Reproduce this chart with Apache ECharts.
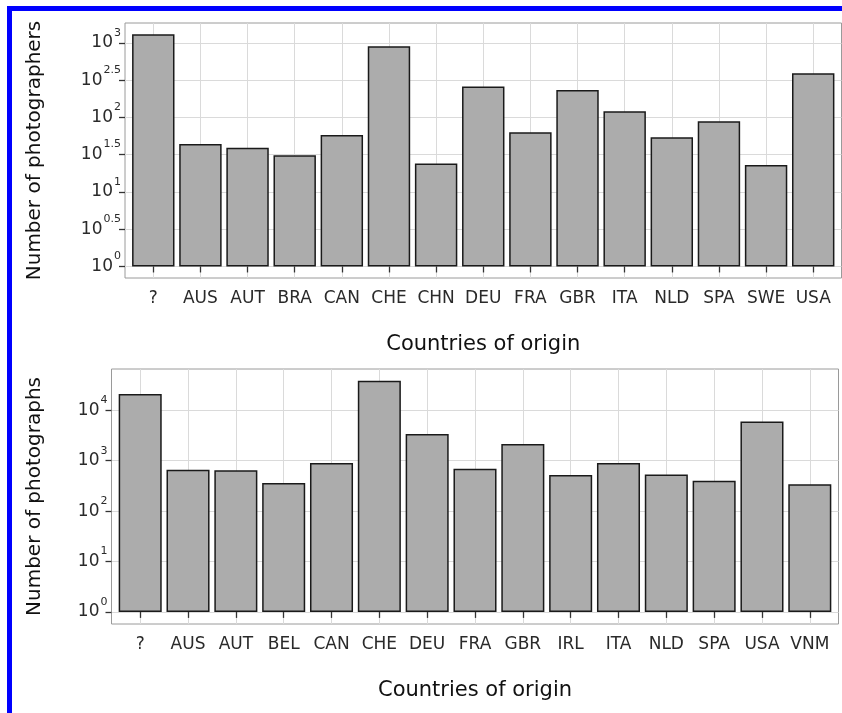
<!DOCTYPE html>
<html><head><meta charset="utf-8">
<script src="https://cdn.jsdelivr.net/npm/echarts@6/dist/echarts.min.js"></script>
<style>html,body{margin:0;padding:0;background:#fff}#c{width:842px;height:713px}</style>
</head><body><div id="c"></div>
<script>
// ---- data ----
const topCategories = ['?','AUS','AUT','BRA','CAN','CHE','CHN','DEU','FRA','GBR','ITA','NLD','SPA','SWE','USA'];
const topPhotographers = [1300,44,39,31,58,900,24,260,63,232,121,54,89,23,392];
const topTickExponents = [0,0.5,1,1.5,2,2.5,3];

const bottomCategories = ['?','AUS','AUT','BEL','CAN','CHE','DEU','FRA','GBR','IRL','ITA','NLD','SPA','USA','VNM'];
const bottomPhotographs = [21000,660,650,360,900,38500,3400,690,2150,520,900,530,400,6000,340];
const bottomTickExponents = [0,1,2,3,4];

const xTitle = 'Countries of origin';
const topYTitle = 'Number of photographers';
const bottomYTitle = 'Number of photographs';

// ---- style ----
const FONT = 'DejaVu Sans';
const tickColor = '#333';
const gridColor = '#dadada';
const borderColor = '#9a9a9a';

function positions(cats){ return cats.map((c,i)=>i+1); }

function xAxisFor(gridIndex, cats){
  const pos = positions(cats);
  return {
    type:'value', gridIndex, min:0.4, max:cats.length+0.6,
    axisLine:{show:false},
    axisTick:{show:true, customValues:pos, length:6, lineStyle:{color:tickColor,width:1.3}},
    axisLabel:{customValues:pos, margin:12, color:'#2a2a2a', fontFamily:FONT, fontSize:17,
      formatter:(v)=>cats[Math.round(v)-1]},
    splitLine:{show:true, lineStyle:{color:gridColor,width:1}},
    name:xTitle, nameLocation:'middle', nameGap:56,
    nameTextStyle:{fontFamily:FONT, fontSize:21, color:'#111'}
  };
}

function yAxisFor(gridIndex, ticks, mn, mx, title, gap){
  return {
    type:'value', gridIndex, min:mn, max:mx,
    axisLine:{show:false},
    axisTick:{show:true, customValues:ticks, length:6, lineStyle:{color:tickColor,width:1.3}},
    axisLabel:{customValues:ticks, margin:4, color:'#2a2a2a',
      formatter:(v)=>'{b|10}{s|'+String(v)+'}',
      rich:{
        b:{fontFamily:FONT, fontSize:17, lineHeight:17, verticalAlign:'bottom', color:'#2a2a2a'},
        s:{fontFamily:FONT, fontSize:11, lineHeight:11, verticalAlign:'bottom', padding:[0,0,13,1], color:'#2a2a2a'}
      }},
    splitLine:{show:true, lineStyle:{color:gridColor,width:1}},
    name:title, nameLocation:'middle', nameGap:gap, nameRotate:90,
    nameTextStyle:{fontFamily:FONT, fontSize:20, color:'#111'}
  };
}

function barSeries(idx, cats, vals){
  return {
    type:'bar', xAxisIndex:idx, yAxisIndex:idx, barWidth:'90%',
    data: cats.map((c,i)=>[i+1, Math.log10(vals[i])]),
    itemStyle:{color:'#acacac', borderColor:'#1a1a1a', borderWidth:1.5},
    silent:true
  };
}

const chart = echarts.init(document.getElementById('c'), null, {renderer:'canvas'});
chart.setOption({
  animation:false,
  backgroundColor:'#ffffff',
  grid:[
    {left:125, top:23, width:716.5, height:255, show:true, borderColor:borderColor, borderWidth:1, backgroundColor:'#fff', outerBoundsMode:'none'},
    {left:111.5, top:369, width:727, height:255, show:true, borderColor:borderColor, borderWidth:1, backgroundColor:'#fff', outerBoundsMode:'none'}
  ],
  xAxis:[ xAxisFor(0, topCategories), xAxisFor(1, bottomCategories) ],
  yAxis:[
    yAxisFor(0, topTickExponents, -0.155, 3.266, topYTitle, 80),
    yAxisFor(1, bottomTickExponents, -0.24, 4.82, bottomYTitle, 67)
  ],
  series:[ barSeries(0, topCategories, topPhotographers), barSeries(1, bottomCategories, bottomPhotographs) ],
  graphic:[
    {type:'rect', shape:{x:7,y:6,width:835,height:5}, style:{fill:'#0000ff'}, silent:true},
    {type:'rect', shape:{x:7,y:6,width:5,height:707}, style:{fill:'#0000ff'}, silent:true}
  ]
});
</script></body></html>
